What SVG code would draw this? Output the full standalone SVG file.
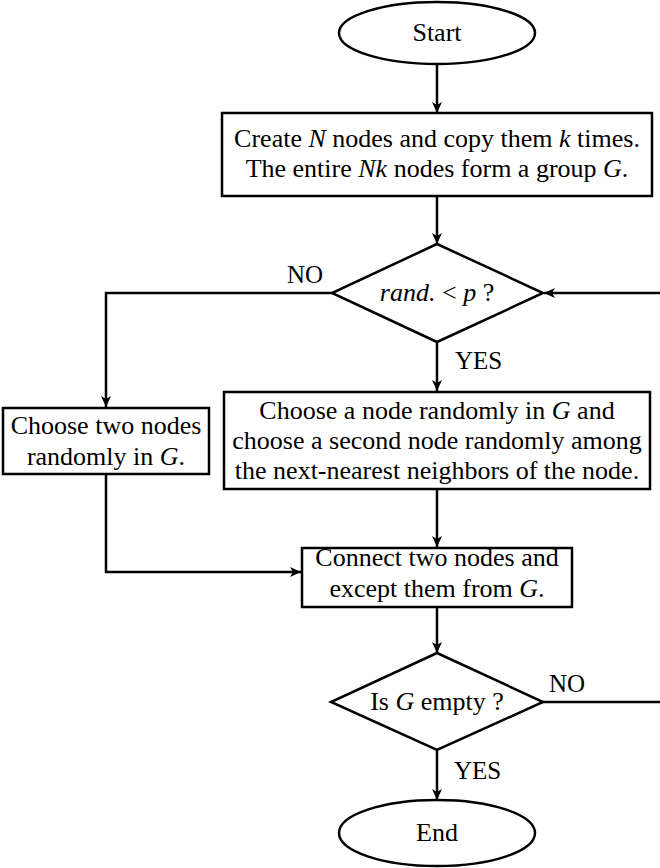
<svg xmlns="http://www.w3.org/2000/svg" width="660" height="868" viewBox="0 0 660 868">
<style>
.s{fill:#fff;stroke:#000;stroke-width:2.5}
.t{font-size:26px;fill:#000;text-anchor:middle}
.l{font-size:25px;fill:#000}
.i{font-style:italic}
.c{fill:none;stroke:#000;stroke-width:2.5}
</style>
<defs>
<marker id="a" markerUnits="userSpaceOnUse" markerWidth="12" markerHeight="12" refX="11" refY="5" orient="auto">
<path d="M0,0 L11,5 L0,10 L3,5 Z" fill="#000"/>
</marker>
</defs>
<rect width="660" height="868" fill="#fff"/>
<g font-family="Liberation Serif, Times New Roman, serif">
<g id="connectors">
<line class="c" x1="437" y1="64" x2="437" y2="113" marker-end="url(#a)"/>
<line class="c" x1="437" y1="196" x2="437" y2="244" marker-end="url(#a)"/>
<line class="c" x1="437" y1="342" x2="437" y2="391" marker-end="url(#a)"/>
<polyline class="c" points="332,293 106,293 106,407" marker-end="url(#a)"/>
<line class="c" x1="660" y1="293" x2="544" y2="293" marker-end="url(#a)"/>
<line class="c" x1="437" y1="490" x2="437" y2="547" marker-end="url(#a)"/>
<polyline class="c" points="106,475 106,572 301,572" marker-end="url(#a)"/>
<line class="c" x1="437" y1="607" x2="437" y2="653" marker-end="url(#a)"/>
<line class="c" x1="437" y1="750" x2="437" y2="800" marker-end="url(#a)"/>
<line class="c" x1="543" y1="702" x2="660" y2="702"/>
<text class="l" x="287" y="283">NO</text>
<text class="l" x="455" y="369">YES</text>
<text class="l" x="549" y="692">NO</text>
<text class="l" x="454" y="779">YES</text>
</g>
<g id="start">
<ellipse class="s" cx="437" cy="33" rx="98" ry="31"/>
<text class="t" x="437" y="41">Start</text>
</g>
<g id="create">
<rect class="s" x="222" y="113" width="430" height="83"/>
<text class="t" x="437" y="147">Create <tspan class="i">N</tspan> nodes and copy them <tspan class="i">k</tspan> times.</text>
<text class="t" x="437" y="177">The entire <tspan class="i">Nk</tspan> nodes form a group <tspan class="i">G</tspan>.</text>
</g>
<g id="decision1">
<polygon class="s" points="437,244 543,293 437,342 332,293"/>
<text class="t" x="437" y="301"><tspan class="i">rand.</tspan> &lt; <tspan class="i">p</tspan> ?</text>
</g>
<g id="choose-two">
<rect class="s" x="3" y="408" width="206" height="66"/>
<text class="t" x="106" y="434">Choose two nodes</text>
<text class="t" x="106" y="465">randomly in <tspan class="i">G</tspan>.</text>
</g>
<g id="choose-nnn">
<rect class="s" x="224" y="392" width="426" height="97"/>
<text class="t" x="437" y="419">Choose a node randomly in <tspan class="i">G</tspan> and</text>
<text class="t" x="437" y="449">choose a second node randomly among</text>
<text class="t" x="437" y="479">the next-nearest neighbors of the node.</text>
</g>
<g id="connect">
<rect class="s" x="302" y="548" width="270" height="59"/>
<text class="t" x="437" y="566">Connect two nodes and</text>
<text class="t" x="437" y="597">except them from <tspan class="i">G</tspan>.</text>
</g>
<g id="decision2">
<polygon class="s" points="437,653 543,702 437,750 331,702"/>
<text class="t" x="437" y="710">Is <tspan class="i">G</tspan> empty ?</text>
</g>
<g id="end">
<ellipse class="s" cx="437" cy="833" rx="98" ry="33"/>
<text class="t" x="437" y="841">End</text>
</g>
</g>
</svg>
